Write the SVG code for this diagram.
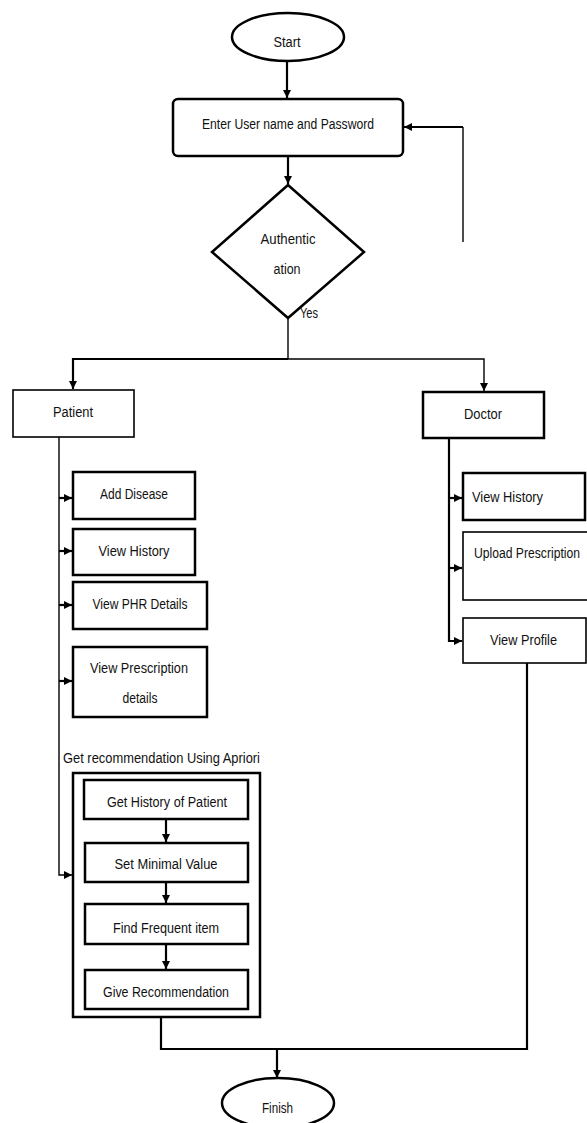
<svg xmlns="http://www.w3.org/2000/svg" width="587" height="1123" viewBox="0 0 587 1123">
<style>
.box{fill:#fff;stroke:#000;stroke-width:2.5}
.thin{fill:#fff;stroke:#000;stroke-width:1.6}
.frame{fill:none;stroke:#000;stroke-width:2.5}
.ln{fill:none;stroke:#000;stroke-width:2.2}
.lt{fill:none;stroke:#000;stroke-width:1.4}
text{font-family:"Liberation Sans Narrow","Liberation Sans",Arial,sans-serif;font-size:14px;fill:#111;text-anchor:middle}
</style>
<defs>
<marker id="ah" markerUnits="userSpaceOnUse" markerWidth="10" markerHeight="10" refX="8" refY="5" orient="auto">
<path d="M0,1 L8,5 L0,9 Z" fill="#000"/>
</marker>
</defs>
<rect width="587" height="1123" fill="#fff"/>
<g id="connectors">
<line class="ln" x1="287" y1="61" x2="287" y2="98" marker-end="url(#ah)"/>
<line class="ln" x1="288" y1="156" x2="288" y2="184" marker-end="url(#ah)"/>
<polyline class="lt" points="463,242 463,127"/>
<line class="ln" x1="463" y1="127" x2="404" y2="127" stroke-width="3" marker-end="url(#ah)"/>
<line class="lt" x1="288" y1="318" x2="288" y2="359"/>
<polyline class="ln" points="288,359 73,359 73,389" marker-end="url(#ah)"/>
<polyline class="lt" points="288,359 484,359 484,391" marker-end="url(#ah)"/>
<polyline class="lt" points="59,437 59,875 72,875" marker-end="url(#ah)"/>
<line class="ln" x1="59" y1="498" x2="72" y2="498" marker-end="url(#ah)"/>
<line class="ln" x1="59" y1="551" x2="72" y2="551" marker-end="url(#ah)"/>
<line class="ln" x1="59" y1="605" x2="72" y2="605" marker-end="url(#ah)"/>
<line class="ln" x1="59" y1="681" x2="72" y2="681" marker-end="url(#ah)"/>
<polyline class="ln" points="449,438 449,641 462,641" marker-end="url(#ah)"/>
<line class="ln" x1="449" y1="498" x2="462" y2="498" marker-end="url(#ah)"/>
<line class="ln" x1="449" y1="568" x2="462" y2="568" marker-end="url(#ah)"/>
<line class="ln" x1="166" y1="819" x2="166" y2="842" marker-end="url(#ah)"/>
<line class="ln" x1="166" y1="882" x2="166" y2="903" marker-end="url(#ah)"/>
<line class="ln" x1="166" y1="944" x2="166" y2="969" marker-end="url(#ah)"/>
<polyline class="ln" points="161,1017 161,1049 527,1049 527,663"/>
<line class="ln" x1="277" y1="1049" x2="277" y2="1078" marker-end="url(#ah)"/>
</g>
<g id="start"><ellipse cx="288" cy="37" rx="56" ry="24" class="box" stroke-width="2"/><text x="287" y="47" textLength="27" lengthAdjust="spacingAndGlyphs">Start</text></g>
<g id="login"><rect x="173" y="99" width="230" height="57" rx="5" class="box"/><text x="288" y="129" textLength="172" lengthAdjust="spacingAndGlyphs">Enter User name and Password</text></g>
<g id="auth"><polygon points="288,185 364,252 288,318 212,252" class="box" stroke-width="2.2"/><text x="288" y="244" textLength="55" lengthAdjust="spacingAndGlyphs">Authentic</text><text x="287" y="274" textLength="27" lengthAdjust="spacingAndGlyphs">ation</text></g>
<g id="yes"><text x="309" y="318" textLength="18" lengthAdjust="spacingAndGlyphs">Yes</text></g>
<g id="patient"><rect x="13" y="390" width="121" height="47" class="thin"/><text x="73" y="417" textLength="40" lengthAdjust="spacingAndGlyphs">Patient</text></g>
<g id="add-disease"><rect x="73" y="472" width="122" height="47" class="box"/><text x="134" y="499" textLength="68" lengthAdjust="spacingAndGlyphs">Add Disease</text></g>
<g id="p-view-history"><rect x="73" y="529" width="122" height="46" class="box"/><text x="134" y="556" textLength="71" lengthAdjust="spacingAndGlyphs">View History</text></g>
<g id="view-phr"><rect x="73" y="582" width="134" height="47" class="box"/><text x="140" y="609" textLength="95" lengthAdjust="spacingAndGlyphs">View PHR Details</text></g>
<g id="view-prescription"><rect x="73" y="647" width="134" height="70" class="box" stroke-width="2"/><text x="139" y="673" textLength="98" lengthAdjust="spacingAndGlyphs">View Prescription</text><text x="140" y="703" textLength="35" lengthAdjust="spacingAndGlyphs">details</text></g>
<g id="apriori"><text x="161.5" y="763" textLength="197" lengthAdjust="spacingAndGlyphs">Get recommendation Using Apriori</text><rect x="73" y="773" width="187" height="244" class="frame"/></g>
<g id="get-history"><rect x="84" y="780" width="164" height="39" class="box"/><text x="167" y="807" textLength="120" lengthAdjust="spacingAndGlyphs">Get History of Patient</text></g>
<g id="set-minimal"><rect x="85" y="843" width="163" height="39" class="box" stroke-width="2"/><text x="166" y="869" textLength="103" lengthAdjust="spacingAndGlyphs">Set Minimal Value</text></g>
<g id="find-frequent"><rect x="85" y="904" width="163" height="40" class="box"/><text x="166" y="933" textLength="106" lengthAdjust="spacingAndGlyphs">Find Frequent item</text></g>
<g id="give-rec"><rect x="85" y="970" width="163" height="39" class="box"/><text x="166" y="997" textLength="126" lengthAdjust="spacingAndGlyphs">Give Recommendation</text></g>
<g id="doctor"><rect x="423" y="392" width="121" height="46" class="box"/><text x="483" y="419" textLength="38" lengthAdjust="spacingAndGlyphs">Doctor</text></g>
<g id="d-view-history"><rect x="463" y="473" width="122" height="47" class="box"/><text x="507.5" y="502" textLength="71" lengthAdjust="spacingAndGlyphs">View History</text></g>
<g id="upload"><rect x="463" y="532" width="140" height="68" class="thin"/><text x="527" y="558" font-size="12" textLength="106" lengthAdjust="spacingAndGlyphs">Upload Prescription</text></g>
<g id="view-profile"><rect x="463" y="618" width="123" height="45" class="thin"/><text x="523.5" y="645" textLength="67" lengthAdjust="spacingAndGlyphs">View Profile</text></g>
<g id="finish"><ellipse cx="278" cy="1103" rx="56" ry="25" class="box" stroke-width="2"/><text x="277.5" y="1113" textLength="31" lengthAdjust="spacingAndGlyphs">Finish</text></g>
</svg>
